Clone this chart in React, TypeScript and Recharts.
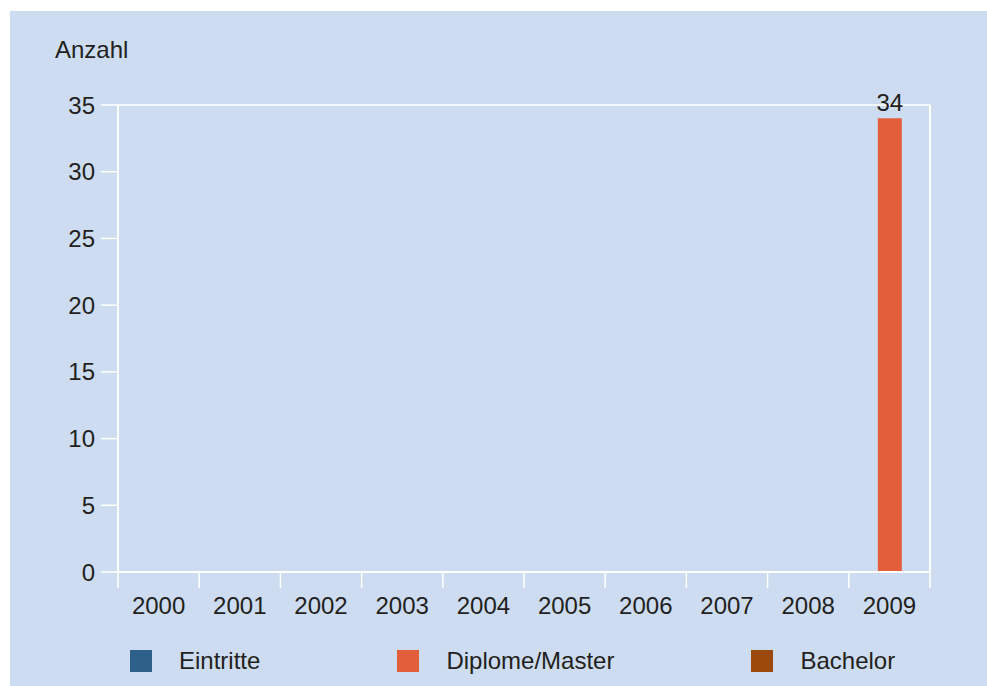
import React from 'react';
import { BarChart, Bar, XAxis, YAxis, CartesianGrid, LabelList } from 'recharts';

const years = ['2000', '2001', '2002', '2003', '2004', '2005', '2006', '2007', '2008', '2009'];
const eintritte = [0, 0, 0, 0, 0, 0, 0, 0, 0, 0];
const diplome = [0, 0, 0, 0, 0, 0, 0, 0, 0, 34];
const bachelor = [0, 0, 0, 0, 0, 0, 0, 0, 0, 0];
const yTicks = [0, 5, 10, 15, 20, 25, 30, 35];

const series = [
  { key: 'eintritte', label: 'Eintritte', color: '#2d6189' },
  { key: 'diplome', label: 'Diplome/Master', color: '#e35e3a' },
  { key: 'bachelor', label: 'Bachelor', color: '#9b4a0b' },
];

const data = years.map((year, i) => ({
  year,
  eintritte: eintritte[i],
  diplome: diplome[i],
  bachelor: bachelor[i],
}));

const CHART_W = 987;
const PLOT_LEFT = 118;
const PLOT_RIGHT_MARGIN = 57;
const FONT = '"Liberation Sans", Arial, Helvetica, sans-serif';
const TEXT = '#231f20';
const BG = '#cddcf0';

// Y-Ticks: kurzer weißer Strich links der Achse + Zahl
function YTick(props: any) {
  const { x, y, payload } = props;
  return (
    <g>
      <line x1={x - 17} x2={x} y1={y} y2={y} stroke="#ffffff" strokeWidth={1.5} />
      <text x={x - 23} y={y} dy="0.36em" textAnchor="end" fill={TEXT} fontSize={24} fontFamily={FONT}>
        {payload.value}
      </text>
    </g>
  );
}

// Jahreszahl mittig, Striche an den Kategoriegrenzen
function XTick(props: any) {
  const { x, y, payload, index } = props;
  const half = payload.offset || (CHART_W - PLOT_LEFT - PLOT_RIGHT_MARGIN) / years.length / 2;
  const isLast = index === years.length - 1;
  return (
    <g>
      <line x1={x - half} x2={x - half} y1={y} y2={y + 16} stroke="#ffffff" strokeWidth={1.5} />
      {isLast && <line x1={x + half} x2={x + half} y1={y} y2={y + 16} stroke="#ffffff" strokeWidth={1.5} />}
      <text x={x} y={y + 25} dy="0.71em" textAnchor="middle" fill={TEXT} fontSize={24} fontFamily={FONT}>
        {payload.value}
      </text>
    </g>
  );
}

export default function App() {
  return (
    <div style={{ position: 'absolute', left: 0, top: 0, width: CHART_W, height: 686, background: '#fff', fontFamily: FONT }}>
      {/* Hintergrundfläche */}
      <div style={{ position: 'absolute', left: 10, top: 11, right: 0, bottom: 0, background: BG }} />

      <div style={{ position: 'absolute', left: 55, top: 38, fontSize: 24, lineHeight: '24px', color: TEXT }}>
        Anzahl
      </div>

      <div style={{ position: 'absolute', left: 0, top: 0 }}>
        <BarChart
          width={CHART_W}
          height={686}
          data={data}
          margin={{ top: 105, right: PLOT_RIGHT_MARGIN - 1, bottom: 53, left: 0 }}
          barSize={24}
          barGap={0}
        >
          <CartesianGrid horizontal vertical={false} stroke="#ffffff" strokeWidth={1.5} />
          <XAxis
            dataKey="year"
            height={61}
            axisLine={{ stroke: '#ffffff', strokeWidth: 2 }}
            tickLine={false}
            tickSize={0}
            tickMargin={0}
            interval={0}
            tick={<XTick />}
          />
          <YAxis
            yAxisId="left"
            width={PLOT_LEFT}
            domain={[0, 35]}
            ticks={yTicks}
            tickSize={0}
            tickMargin={0}
            tickLine={false}
            interval={0}
            axisLine={{ stroke: '#ffffff', strokeWidth: 2 }}
            tick={<YTick />}
          />
          <YAxis
            yAxisId="right"
            orientation="right"
            width={1}
            domain={[0, 35]}
            tick={false}
            tickLine={false}
            axisLine={{ stroke: '#ffffff', strokeWidth: 2 }}
          />
          {series.map((s) => (
            <Bar key={s.key} dataKey={s.key} yAxisId="left" fill={s.color} isAnimationActive={false}>
              {s.key === 'diplome' && (
                <LabelList
                  dataKey={s.key}
                  position="top"
                  offset={7}
                  fill={TEXT}
                  fontSize={24}
                  fontFamily={FONT}
                  formatter={(v: any) => (v ? v : '')}
                />
              )}
            </Bar>
          ))}
        </BarChart>
      </div>

      {/* Legende */}
      <div style={{ position: 'absolute', left: 130, top: 650, display: 'flex', alignItems: 'center', gap: 137 }}>
        {series.map((s) => (
          <div key={s.key} style={{ display: 'flex', alignItems: 'center' }}>
            <div style={{ width: 22, height: 22, background: s.color }} />
            <span style={{ marginLeft: 27, fontSize: 24, lineHeight: '22px', color: TEXT }}>{s.label}</span>
          </div>
        ))}
      </div>
    </div>
  );
}
